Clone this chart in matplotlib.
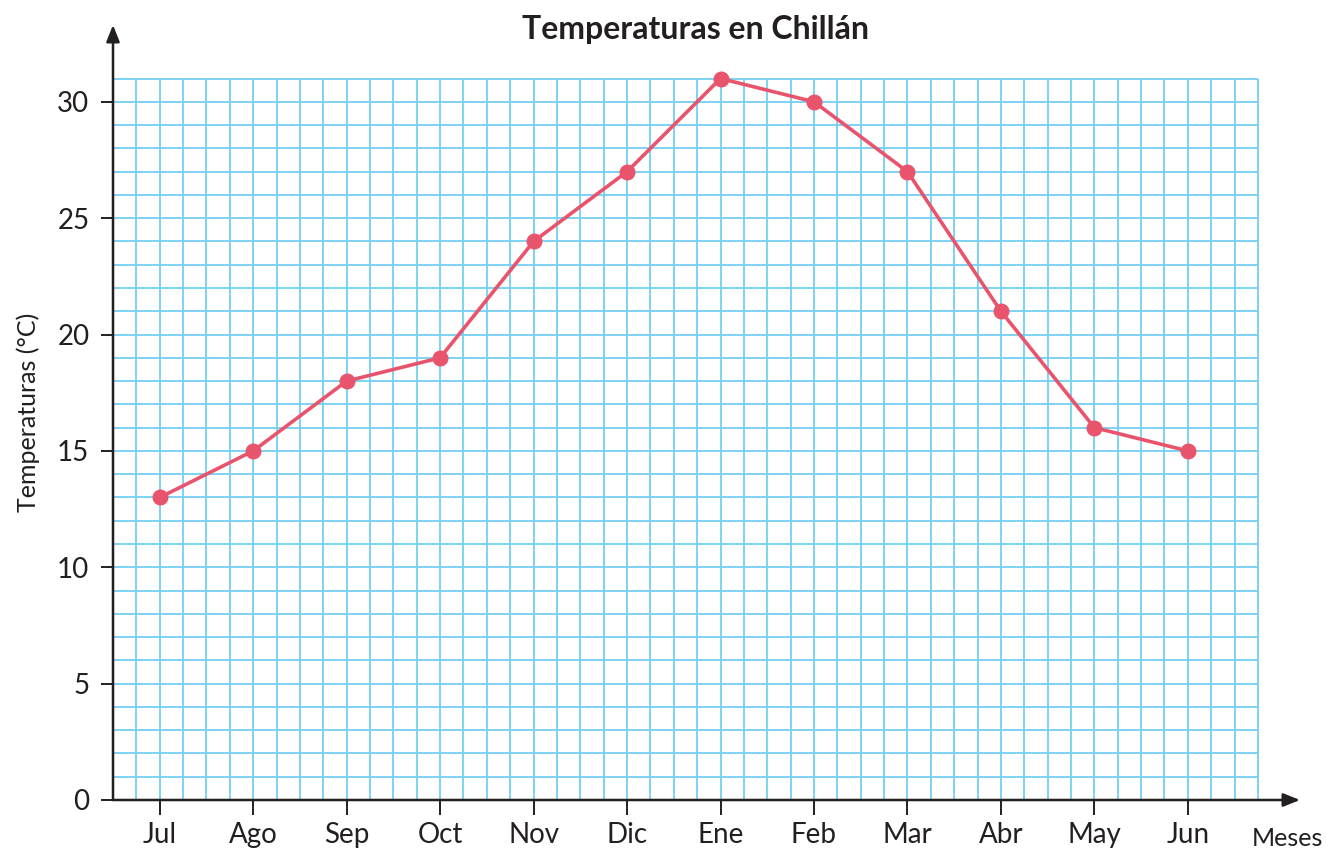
import matplotlib.pyplot as plt
import numpy as np

plt.rcParams['font.family'] = ['Lato', 'DejaVu Sans']

# monthly temperatures (°C), July to June
meses = ["Jul", "Ago", "Sep", "Oct", "Nov", "Dic", "Ene", "Feb", "Mar", "Abr", "May", "Jun"]
temperaturas = [13, 15, 18, 19, 24, 27, 31, 30, 27, 21, 16, 15]
y_ticks = [0, 5, 10, 15, 20, 25, 30]

GRID = "#74cff3"
LINE = "#e9546d"
INK = "#231f20"

fig = plt.figure(figsize=(13.26, 8.52), dpi=100)
ax = fig.add_axes([113 / 1326, 52 / 852, (1300 - 113) / 1326, (800 - 25) / 852])

x = np.arange(len(meses))
x0, x_grid_end = -0.5, 11.75
y_grid_top = 31

# graph paper: 4 cells per month horizontally, 1 °C per cell vertically
ax.vlines(np.arange(x0 + 0.25, x_grid_end + 0.01, 0.25), 0, y_grid_top,
          color=GRID, lw=1.3, zorder=1)
ax.hlines(np.arange(1, y_grid_top + 1), x0, x_grid_end, color=GRID, lw=1.3, zorder=1)

ax.plot(x, temperaturas, color=LINE, lw=2.6, marker="o", ms=10.5, zorder=3,
        solid_capstyle="round")

ax.set_xlim(x0, 12.2)
ax.set_ylim(0, 33.3)
for s in ax.spines.values():
    s.set_visible(False)

# axes with arrow heads
ax.annotate("", xy=(12.2, 0), xytext=(x0, 0),
            arrowprops=dict(arrowstyle="-|>,head_length=1.0,head_width=0.4",
                            color=INK, lw=1.8, shrinkA=0, shrinkB=0),
            annotation_clip=False, zorder=4)
ax.annotate("", xy=(x0, 33.3), xytext=(x0, 0),
            arrowprops=dict(arrowstyle="-|>,head_length=1.0,head_width=0.4",
                            color=INK, lw=1.8, shrinkA=0, shrinkB=0),
            annotation_clip=False, zorder=4)

ax.set_xticks(x)
ax.set_xticklabels(meses)
ax.set_yticks(y_ticks)
ax.tick_params(axis="x", length=11, width=1.4, color=INK, labelcolor=INK,
               labelsize=20, pad=5)
ax.tick_params(axis="y", length=9, width=1.4, color=INK, labelcolor=INK,
               labelsize=20, pad=8)

ax.set_ylabel("Temperaturas (°C)", fontsize=18, color=INK, labelpad=12)
fig.text(1323 / 1326, 1 - 838 / 852, "Meses", fontsize=18, color=INK,
         ha="right", va="center")
fig.text(695 / 1326, 1 - 29 / 852, "Temperaturas en Chillán", fontsize=23,
         fontweight="bold", color=INK, ha="center", va="center")

fig.savefig("out.png", dpi=100)
